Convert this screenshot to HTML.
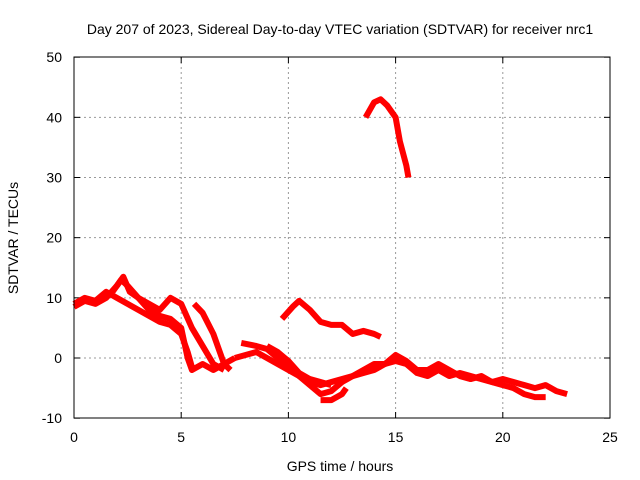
<!DOCTYPE html>
<html><head><meta charset="utf-8"><style>
body{margin:0;background:#fff}
svg{display:block;font-family:"Liberation Sans",sans-serif}
</style></head><body>
<svg id="chart" width="640" height="480">
<rect width="640" height="480" fill="#fff"/>
<text x="340" y="34" font-size="14" text-anchor="middle">Day 207 of 2023, Sidereal Day-to-day VTEC variation (SDTVAR) for receiver nrc1</text>
<g id="grid"></g><g id="ticks"></g><g id="series"></g>
<rect x="74" y="57" width="536" height="361" fill="none" stroke="#000" stroke-width="1"/>
<text x="340" y="471" font-size="14" text-anchor="middle">GPS time / hours</text>
<text x="18" y="238" font-size="14" text-anchor="middle" transform="rotate(-90 18 238)">SDTVAR / TECUs</text>
</svg>
<script>
const xTicks=[0,5,10,15,20,25];
const yTicks=[-10,0,10,20,30,40,50];
const s1x=[0,0.5,1,1.5,2,2.3,2.6,3,3.5,4,4.5,5,5.3,5.5,6,6.5,7,7.5];
const s1y=[8.5,9.5,9,10,12,13.5,11,10,8,7,6.5,5,0,-2,-1,-2,-1,0];
const s2x=[0,0.5,1,1.5,2,2.5,3,3.5,4,4.5,5,5.3,5.5];
const s2y=[9,10,9.5,11,10,9,8,7,6,5.5,4,1,-1.5];
const s3x=[1.8,2.2,2.5,3,3.5,4,4.5,5,5.5,6,6.5,7];
const s3y=[11,13,12,10,9,8,10,9,5,2,-1,-2];
const s4x=[5.6,6,6.5,7,7.3];
const s4y=[9,7.5,4,-1,-2];
const s5x=[7.5,8,8.5,9,9.5,10,10.5,11,11.5,12,12.5,13,13.5,14,14.5,15,15.5,16,16.5,17,17.5,18,18.5,19,19.5,20,20.5,21,21.5,22,22.5,23];
const s5y=[0,0.5,1,0,-1,-2,-3,-4.5,-6,-5.5,-4,-3,-2.5,-2,-1,0.5,-0.5,-2,-2,-1,-2,-3,-3.5,-3,-4,-3.5,-4,-4.5,-5,-4.5,-5.5,-6];
const s6x=[7.8,8.5,9,9.5,10,10.5,11,11.5,12,12.5,13,13.5,14,14.5,15,15.5,16,16.5,17,17.5,18,18.5,19,19.5,20,20.5,21,21.5,22];
const s6y=[2.5,2,1.5,0,-1,-3,-4,-4.5,-4,-3.5,-3,-2,-1,-1,-0.5,-1,-2.5,-3,-2,-3,-2.5,-3,-3.5,-4,-4.5,-5,-6,-6.5,-6.5];
const s7x=[9,9.5,10,10.5,11,11.5,12];
const s7y=[2,1,-0.5,-2.5,-3.5,-4,-4.5];
const s8x=[11.5,12,12.5,12.7];
const s8y=[-7,-7,-6,-5];
const s9x=[9.7,10.2,10.5,11,11.5,12,12.5,13,13.5,14,14.3];
const s9y=[6.5,8.5,9.5,8,6,5.5,5.5,4,4.5,4,3.5];
const s10x=[13.6,14,14.3,14.6,15,15.2,15.5,15.6];
const s10y=[40,42.5,43,42,40,36,32,30];
const seriesX=[s1x,s2x,s3x,s4x,s5x,s6x,s7x,s8x,s9x,s10x];
const seriesY=[s1y,s2y,s3y,s4y,s5y,s6y,s7y,s8y,s9y,s10y];
const X=h=>74+h*536/25, Y=v=>358-v*361/60;
const NS="http://www.w3.org/2000/svg";
const grid=document.getElementById('grid'),ticks=document.getElementById('ticks'),ser=document.getElementById('series');
function mk(tag,at,p){const e=document.createElementNS(NS,tag);for(const k in at)e.setAttribute(k,at[k]);p.appendChild(e);return e;}
xTicks.forEach(t=>{const x=X(t);
 if(t>0&&t<25){const g=mk('line',{x1:x,x2:x,y1:57,y2:418,stroke:'#999','stroke-dasharray':'2,3'},grid);
 
 }
 mk('line',{x1:x,x2:x,y1:418,y2:412,stroke:'#000'},ticks);mk('line',{x1:x,x2:x,y1:57,y2:63,stroke:'#000'},ticks);
 const l=mk('text',{x:x,y:442,'font-size':14,'text-anchor':'middle'},ticks);l.textContent=t;
 
 });
yTicks.forEach(t=>{const y=Y(t);
 if(t>-10&&t<50){const g=mk('line',{x1:74,x2:610,y1:y,y2:y,stroke:'#999','stroke-dasharray':'2,3'},grid);
 
 }
 mk('line',{x1:74,x2:80,y1:y,y2:y,stroke:'#000'},ticks);mk('line',{x1:604,x2:610,y1:y,y2:y,stroke:'#000'},ticks);
 const l=mk('text',{x:62,y:y+5,'font-size':14,'text-anchor':'end'},ticks);l.textContent=t;
 
 });
seriesX.forEach((xs,i)=>{const ys=seriesY[i];
 const p=mk('polyline',{points:xs.map((h,j)=>X(h)+','+Y(ys[j])).join(' '),fill:'none',stroke:'#f00','stroke-width':6,'stroke-linejoin':'round'},ser);
 
 });
</script>
</body></html>
